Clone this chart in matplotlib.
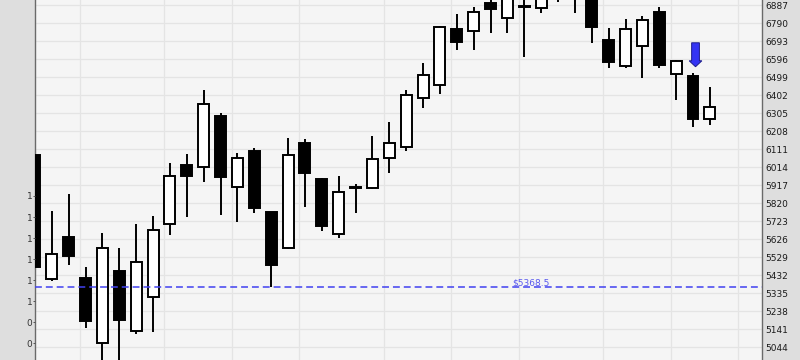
import matplotlib
matplotlib.use("Agg")
import matplotlib.pyplot as plt
import matplotlib.transforms as mtransforms
from matplotlib.patches import Rectangle

# weekly candles, values
opens = [6080, 5410, 5637, 5416, 5065, 5453, 5130, 5317, 5708, 6025,
         6014, 6290, 5906, 6102, 5771, 5577, 6143, 5949, 5653, 5904,
         5901, 6062, 6123, 6386, 6457, 6758, 6748, 6898, 6820, 6880,
         6872, 6990, 7030, 6960, 6700, 6560, 6668, 6849, 6517, 6506, 6273]
highs = [6107, 5778, 5870, 5477, 5658, 5579, 5708, 5752, 6037, 6086,
         6431, 6307, 6089, 6116, 5775, 6172, 6168, 5955, 5967, 5924,
         6183, 6258, 6431, 6576, 6775, 6840, 6879, 6935, 7010, 7050,
         7040, 7120, 7090, 7000, 6763, 6813, 6831, 6879, 6591, 6521, 6445]
lows = [5344, 5402, 5489, 5150, 4945, 4940, 5117, 5125, 5651, 5748,
        5936, 5759, 5721, 5769, 5368.5, 5572, 5802, 5672, 5635, 5769,
        5899, 5985, 6103, 6335, 6411, 6646, 6646, 6736, 6739, 6610,
        6847, 6906, 6844, 6685, 6551, 6547, 6497, 6547, 6377, 6230, 6244]
closes = [5478, 5545, 5538, 5187, 5577, 5193, 5505, 5678, 5969, 5969,
          6353, 5962, 6062, 5796, 5490, 6082, 5985, 5699, 5882, 5906,
          6060, 6147, 6405, 6511, 6772, 6691, 6852, 6865, 6970, 6884,
          6980, 7060, 6960, 6772, 6583, 6758, 6806, 6563, 6585, 6274, 6341]

month_starts = [3, 8, 12, 16, 21, 25, 29, 34, 38, 42]
price_ticks = [5044, 5141, 5238, 5335, 5432, 5529, 5626, 5723, 5820, 5917,
               6014, 6111, 6208, 6305, 6402, 6499, 6596, 6693, 6790, 6887]
left_ticks = [0, 1, 2, 3, 4, 5, 6, 7]
left_labels = ['0', '0', '1', '1', '1', '1', '1', '1']
support = 5368.5
signal_idx = 39
signal_top, signal_tip = 6685, 6556

plt.rcParams['font.family'] = 'DejaVu Sans'
fig = plt.figure(figsize=(8, 3.6), dpi=100, facecolor='#dedede')
ax = fig.add_axes([35 / 800, 0, 727 / 800, 1], facecolor='#f5f5f5')

# clipped left axis labels (twin made first, twinx resets the main axis ticks)
ax2 = ax.twinx()
ax2.yaxis.set_ticks_position('left')
ax2.set_ylim(-0.793, 16.31)
ax2.set_yticks(left_ticks)
ax2.set_yticklabels(left_labels)
ax2.tick_params(axis='y', which='both', left=True, right=False, labelleft=True,
                labelright=False, length=1.5, width=0.7, pad=0.5, labelsize=6.5,
                labelcolor='#333333', color='#555555')
for s in ax2.spines.values():
    s.set_visible(False)

ax.set_xlim(0.0, 43.09)
ax.set_ylim(4975.6, 6915.6)

# grid
for m in month_starts:
    ax.axvline(m - 0.33, color='#e4e4e4', lw=0.9, zorder=0)
for p in price_ticks:
    ax.axhline(p, color='#e4e4e4', lw=0.9, zorder=0)

# candles
w = 0.65
for i, (o, h, l, c) in enumerate(zip(opens, highs, lows, closes)):
    fc = 'white' if c >= o else 'black'
    ax.vlines(i, l, h, color='black', lw=1.4, zorder=2)
    ax.add_patch(Rectangle((i - w / 2, min(o, c)), w, abs(c - o),
                           facecolor=fc, edgecolor='black', lw=1.4, zorder=3))

# support line + label
ax.axhline(support, color='#4040f0', lw=1.1, dashes=(4.5, 2.6), zorder=4)
trans = mtransforms.blended_transform_factory(ax.transAxes, ax.transData)
ax.text(0.6816, support, r'\$' + f'{support}', transform=trans, ha='center',
        va='bottom', fontsize=6.5, color='#5a5aee', zorder=5)

# sell signal arrow
ax.arrow(signal_idx + 0.15, signal_top, 0, signal_tip - signal_top, width=0.46,
         head_width=0.75, head_length=32, length_includes_head=True,
         facecolor='#3434f4', edgecolor='#1c1c8c', lw=0.7, zorder=5)

# right price axis
ax.set_yticks(price_ticks)
ax.set_yticklabels([str(p) for p in price_ticks])
ax.tick_params(axis='y', left=False, right=False, labelleft=False, labelright=True,
               length=0, pad=2.5, labelsize=6.5, labelcolor='#1a1a1a')
ax.set_xticks([])
for s in ['top', 'bottom']:
    ax.spines[s].set_visible(False)
for s in ['left', 'right']:
    ax.spines[s].set_color('#6a6a6a')
    ax.spines[s].set_linewidth(1.0)

fig.savefig('out.png', dpi=100, facecolor=fig.get_facecolor())
